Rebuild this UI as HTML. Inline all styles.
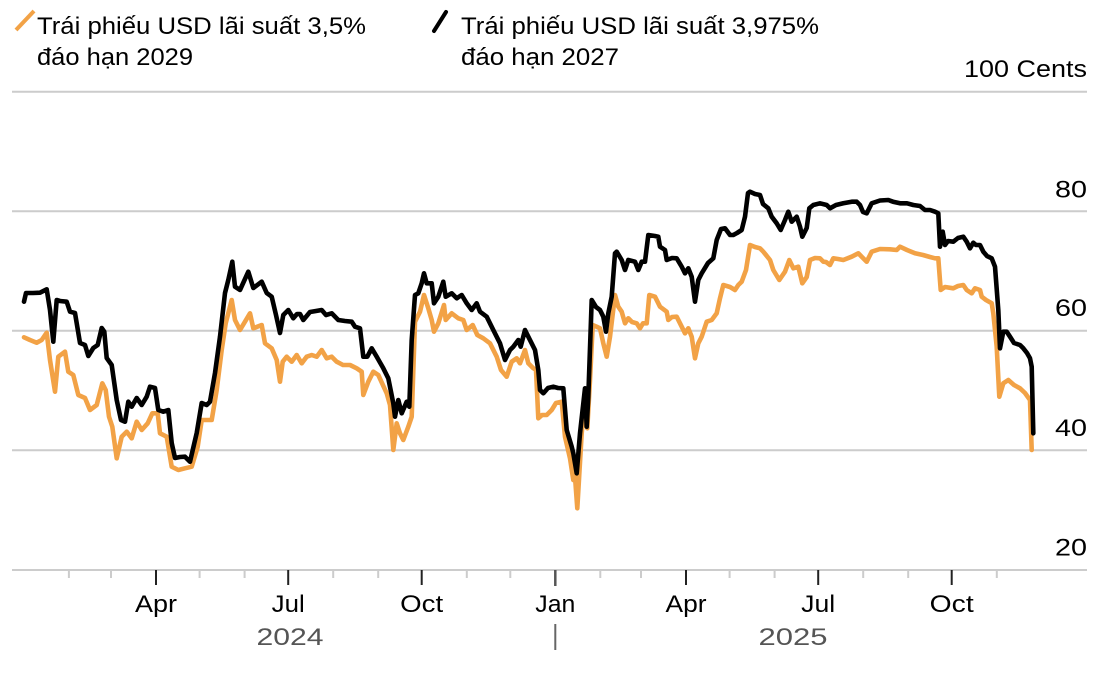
<!DOCTYPE html>
<html>
<head>
<meta charset="utf-8">
<style>
html,body{margin:0;padding:0;background:#fff;}
svg{display:block;}
text{font-family:"Liberation Sans","DejaVu Sans",sans-serif;}
</style>
</head>
<body>
<svg width="1120" height="674" viewBox="0 0 1120 674" xmlns="http://www.w3.org/2000/svg">
<rect width="1120" height="674" fill="#fff"/>

<!-- Legend -->
<line x1="16" y1="30" x2="34" y2="11" stroke="#f2a246" stroke-width="4" stroke-linecap="butt"/>
<text x="37" y="34" font-size="24" fill="#000" textLength="329" lengthAdjust="spacingAndGlyphs">Trái phiếu USD lãi suất 3,5%</text>
<text x="37" y="65" font-size="24" fill="#000" textLength="156" lengthAdjust="spacingAndGlyphs">đáo hạn 2029</text>

<line x1="434" y1="31" x2="446" y2="12" stroke="#000" stroke-width="4" stroke-linecap="round"/>
<text x="461" y="34" font-size="24" fill="#000" textLength="358" lengthAdjust="spacingAndGlyphs">Trái phiếu USD lãi suất 3,975%</text>
<text x="461" y="65" font-size="24" fill="#000" textLength="158" lengthAdjust="spacingAndGlyphs">đáo hạn 2027</text>

<!-- Gridlines -->
<g stroke="#cccccc" stroke-width="2">
<line x1="12" y1="91.7" x2="1087" y2="91.7"/>
<line x1="12" y1="211.2" x2="1087" y2="211.2"/>
<line x1="12" y1="330.7" x2="1087" y2="330.7"/>
<line x1="12" y1="450.2" x2="1087" y2="450.2"/>
<line x1="12" y1="570" x2="1087" y2="570"/>
</g>

<!-- Y labels -->
<g font-size="24" fill="#000" text-anchor="end">
<text x="1087" y="77" textLength="123" lengthAdjust="spacingAndGlyphs">100 Cents</text>
<text x="1087" y="197.5" textLength="32" lengthAdjust="spacingAndGlyphs">80</text>
<text x="1087" y="316" textLength="32" lengthAdjust="spacingAndGlyphs">60</text>
<text x="1087" y="436" textLength="32" lengthAdjust="spacingAndGlyphs">40</text>
<text x="1087" y="555.5" textLength="32" lengthAdjust="spacingAndGlyphs">20</text>
</g>

<!-- Minor ticks -->
<g stroke="#cccccc" stroke-width="2">
<line x1="68.9" y1="570" x2="68.9" y2="578"/>
<line x1="111" y1="570" x2="111" y2="578"/>
<line x1="199.6" y1="570" x2="199.6" y2="578"/>
<line x1="244.6" y1="570" x2="244.6" y2="578"/>
<line x1="333.2" y1="570" x2="333.2" y2="578"/>
<line x1="378.2" y1="570" x2="378.2" y2="578"/>
<line x1="466.8" y1="570" x2="466.8" y2="578"/>
<line x1="510.3" y1="570" x2="510.3" y2="578"/>
<line x1="600.3" y1="570" x2="600.3" y2="578"/>
<line x1="641" y1="570" x2="641" y2="578"/>
<line x1="729.6" y1="570" x2="729.6" y2="578"/>
<line x1="774.6" y1="570" x2="774.6" y2="578"/>
<line x1="863.2" y1="570" x2="863.2" y2="578"/>
<line x1="908.2" y1="570" x2="908.2" y2="578"/>
<line x1="996.8" y1="570" x2="996.8" y2="578"/>
</g>
<!-- Major ticks -->
<g stroke="#222" stroke-width="2">
<line x1="156" y1="570" x2="156" y2="585"/>
<line x1="288.2" y1="570" x2="288.2" y2="585"/>
<line x1="421.7" y1="570" x2="421.7" y2="585"/>
<line x1="686" y1="570" x2="686" y2="585"/>
<line x1="818.2" y1="570" x2="818.2" y2="585"/>
<line x1="951.7" y1="570" x2="951.7" y2="585"/>
</g>
<line x1="555.3" y1="570" x2="555.3" y2="586" stroke="#555" stroke-width="2.5"/>
<line x1="555.3" y1="624" x2="555.3" y2="650" stroke="#666" stroke-width="2"/>

<!-- X labels -->
<g font-size="24" fill="#000" text-anchor="middle">
<text x="156" y="612" textLength="42" lengthAdjust="spacingAndGlyphs">Apr</text>
<text x="288.2" y="612" textLength="33" lengthAdjust="spacingAndGlyphs">Jul</text>
<text x="421.7" y="612" textLength="43" lengthAdjust="spacingAndGlyphs">Oct</text>
<text x="555.3" y="612" textLength="40" lengthAdjust="spacingAndGlyphs">Jan</text>
<text x="686" y="612" textLength="41" lengthAdjust="spacingAndGlyphs">Apr</text>
<text x="818.2" y="612" textLength="34" lengthAdjust="spacingAndGlyphs">Jul</text>
<text x="951.7" y="612" textLength="44" lengthAdjust="spacingAndGlyphs">Oct</text>
</g>
<g font-size="24" fill="#555" text-anchor="middle">
<text x="290" y="645" textLength="67" lengthAdjust="spacingAndGlyphs">2024</text>
<text x="793" y="645" textLength="69" lengthAdjust="spacingAndGlyphs">2025</text>
</g>

<!-- Orange series -->
<polyline fill="none" stroke="#f2a246" stroke-width="4.6" stroke-linejoin="round" stroke-linecap="round" points="24,337.3 30,340 36.7,342.7 41.7,340 46.7,332.7 50,360 55,391.7 58.3,356.7 65,351.7 68.3,371.7 73.3,375 78.3,395 85,398 90,410 96.7,405 102.3,383.3 105.7,390 109,416.7 112.3,426.7 116.7,458.3 121.7,436.7 126.7,431.7 131.7,438.3 136.7,421.7 141.7,430 147.7,423.3 152.3,413.3 157.7,413.3 160,433.3 166.7,436.7 171.7,466.7 178.3,470 185,468.3 191.7,466.7 197.7,446.7 201.7,420 206,420 211.7,420 216.7,390 221.7,350 225.7,323.3 231.7,300 235,320 240,330 250,313.3 253.3,328.3 261.7,325 265,343.3 271.7,348.3 276.7,360 280,381.7 282.7,361.7 286.7,356.7 291.7,361.7 296.7,355 301.7,363.3 306.7,356.7 311.7,355 316.7,356.7 321.7,350 326.7,358.3 331.7,356.7 336.7,361.7 343,365 350,365 356.7,368.3 361.7,371.7 363.3,395 368.3,381.7 373.3,371.7 378.3,375 386.7,393.3 390,405 393.3,450 396.7,423.3 400,433.3 403.3,440 408.3,426.7 411.7,416.7 415,321.7 420,311.7 424,295 428.3,308.3 431.7,320 434,331.7 438.3,323.3 444,305 445.7,320 451.7,313.3 458.3,318.3 463.3,320 466.7,330 472.7,325 477.3,335 483.3,338.3 490,343.3 496.7,356.7 501,370 506.7,376.7 511.7,361.7 516.7,358.3 520,363.3 525,350 528.3,363.3 533,368 536,370 538.3,418.3 542,415 546.7,415 551.7,410 556,403 561.7,401.7 565,436.7 570,458.3 573.3,480 575,476.7 577.3,508.3 581.7,433.3 585,396.7 587.3,428.3 590,380 592.7,325 596.7,326.7 600,328.3 603.3,343.3 606.7,356.7 610,336.7 615,295 618.3,306.7 621.7,311.7 625,323.3 628.3,318.3 632,322 636.7,323.3 640,328.3 643,323.3 646.7,323.3 649.3,295 655,296.7 660,306.7 666.7,311.7 668.3,320 672,317 676.7,316.7 681.7,326.7 685,333.3 688.3,328.3 691.7,336.7 695,358.3 698.3,343.3 701.7,336.7 706.7,321.7 711.7,320 716.7,313.3 720,298.3 723.3,285 730,287 735,290 738.3,285 741.7,281.7 746,270 750,245 755,247 760,248.3 763.3,251.7 766,255 770,260 773.3,270 779.3,280 785,271.7 789.3,260 793.3,268.3 798.3,266.7 802.3,283.3 806.7,277 810,260 815,258 820,258.3 823.3,261.7 826,262 830,265 833.3,258.3 838,259 843.3,260 851.7,256.7 858.3,253.3 861.7,256.7 866.7,261.7 871.7,251.7 880,249 890,249.3 896.7,250 900,246.7 907,250 915,253.3 923,255 930,257 935,258.3 938.3,258.3 940.7,290 945,287 953.3,288.3 958,286 963.3,285 966.7,290 971.7,293.3 975,288.3 980,290 981.7,296.7 986,300 991.7,303.3 993.3,313.3 996.7,346.7 999.3,396.7 1003.3,383.3 1008.3,380 1014,385 1020,388.3 1025,393 1030,400 1031.7,450"/>

<!-- Black series -->
<polyline fill="none" stroke="#000" stroke-width="4.6" stroke-linejoin="round" stroke-linecap="round" points="24,301.7 26,293 33,293 40,292.7 46.7,289.3 50,310 53.3,341.7 56.7,300 60,301 66.7,301.7 70,311.7 75,313 80,343 85,345 88.3,356 93.3,348 97.7,345 101.7,328 104.3,331.7 106.7,358 111.7,365 116.7,400 121,420 125,421.7 128.3,401.7 131.7,406.7 136.7,398 141.7,405 146.7,396.7 150,386.7 155,388 158.3,410 163.3,411.7 168.3,410 171.7,443 175,458 180,457 185,456.7 190,461.7 196.7,433 201.7,403 206.7,405 210,401.7 215,373 220,336.7 225,293 228.3,280 232.3,261.7 235,286.7 240,290 248.3,271.7 253.3,288 261.7,281.7 266.7,293 271.7,296.7 276,315 280,333 283.3,315 288.3,310 293.3,318.3 297,314 300,314 303.3,320 310,312 316,311 321.7,310 326,315 331.7,313.3 338.3,320 345,321 351.7,321.7 355,326.7 360,328.3 363.3,356.7 367.3,356.7 371.7,348.3 376.7,356.7 383.3,368.3 388.3,378.3 393.3,403.3 395,416.7 398.3,400 401.7,413.3 406.7,401.7 409.3,406.7 411.7,340 415,295 418.3,293.3 421.7,283.3 424,273.3 426.7,283.3 431.7,283.3 434,303.3 438.3,296.7 443.3,281.7 445.7,296.7 451.7,293.3 456.7,298.3 461.7,295 466.7,303.3 471.7,310 476.7,303.3 480,311.7 486.7,316.7 493.3,330 500,343.3 505,360 510,350 513.3,346.7 518.3,340 520.7,346.7 525,330 528.3,336.7 535,350 538.3,370 540,390 543.3,393.3 548,388 553.3,386.7 558,388 563.3,388.3 566.7,430 571.7,446.7 573.3,453.3 576.7,473.3 580,433.3 585,388.3 586.7,426.7 588.3,396.7 591.7,300 596,307 600,310 603.3,316.7 606,331.7 608.3,313.3 611.7,296.7 615,253.3 616.7,251.7 621.7,260 625,270 628.3,260 635,261.7 638.3,270 641.7,261.7 645,261.7 648.3,235 655,236 658.3,236.7 660,246.7 665,250 666.7,260 672,258 676.7,258.3 681.7,266.7 685,273.3 688.3,268.3 691.7,276.7 695,301.7 698.3,280 701.7,273.3 708,263 713.3,258.3 716.7,240 721,229 725,228.3 730,235 733.3,235 737,233 741.7,230 745,216.7 748,193 750,191.7 755,194 760,195 763,204 768.3,208.3 771.7,216.7 776.7,223.3 780.7,230 785,220 788.3,211.7 791.7,221.7 796.7,216.7 800,226.7 802.3,236.7 806.7,228 809.3,208.3 813.3,205 820,203.3 826.7,205 830,208.3 836,205 843.3,203.3 851.7,201.7 856.7,201.7 860,205 863,212 866.7,213.3 871.7,203.3 880,200.5 888.3,200 893,201.7 900,203.3 907,203.3 913.3,205 920,206 925,210 930,210 935,211.7 938.3,213.3 940,246.7 942.7,231.7 945,245 948,241 953.3,241.7 958,238 963.3,236.7 966.7,241.7 970,248.3 973.3,242.7 976,245 980,245 983.3,251.7 987,256 991.7,258.3 995,266.7 998.3,310 1000,348.3 1003.3,331.7 1006.7,331.7 1010,336.7 1014,343 1020,345 1023.3,348.3 1027,353 1030,358.3 1031.7,366.7 1033.3,433.3"/>
</svg>
</body>
</html>
